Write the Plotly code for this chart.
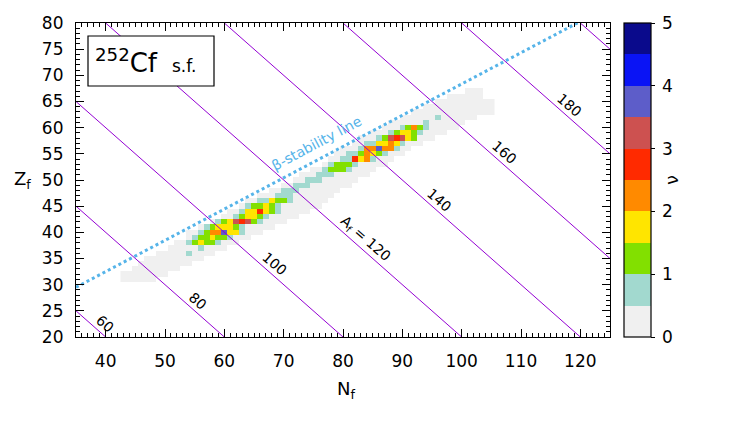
import plotly.graph_objects as go

# ------------------------------------------------------------------ data
# populated band of fragments (light-grey cells, nu < 0.5), per neutron number
band_N = list(range(43, 106))
band_Zmin = [31, 31, 31, 31, 31, 31, 32, 32, 33, 33, 34, 34, 35, 35, 36, 36, 37, 37, 38, 38,
             39, 39, 40, 40, 41, 41, 42, 42, 43, 43, 44, 44, 45, 45, 46, 47, 48, 49, 49, 50,
             51, 51, 52, 53, 53, 54, 55, 55, 56, 57, 57, 58, 58, 59, 59, 60, 60, 61, 62, 62,
             63, 63, 63]
band_Zmax = [32, 32, 33, 34, 35, 35, 36, 36, 37, 38, 38, 40, 40, 41, 41, 42, 42, 43, 44, 44,
             45, 46, 46, 47, 47, 48, 48, 49, 49, 50, 51, 51, 52, 52, 53, 54, 55, 56, 56, 57,
             58, 58, 59, 59, 60, 61, 61, 62, 62, 63, 63, 64, 64, 65, 65, 66, 66, 66, 67, 67,
             67, 65, 65]
band_nu = 0.25

# cells with nu >= 0.5
core_N = [54,
          56,
          54, 55, 56, 57, 58, 59,
          55, 56, 57, 58, 59, 60, 61,
          56, 57, 58, 59, 60, 61, 62, 63,
          57, 58, 59, 60, 61, 62, 63,
          59, 60, 61, 62, 63, 64, 65, 66,
          62, 63, 64, 65, 66, 67,
          63, 64, 65, 66, 67, 68, 69,
          64, 65, 66, 67, 68, 69,
          66, 67, 68, 69, 70, 71,
          69, 70, 71,
          70, 71, 72,
          72, 73, 74,
          74, 75, 76,
          76, 77, 78,
          77, 78, 79, 80, 81,
          78, 79, 80, 81, 82,
          80, 81, 82, 83, 84, 85,
          81, 82, 83, 84, 85, 86, 87,
          83, 84, 85, 86, 87, 88, 89,
          84, 85, 86, 87, 88, 89, 90,
          86, 87, 88, 89, 90, 91, 92,
          88, 89, 90, 91, 92, 93,
          90, 91, 92, 93, 94,
          94,
          96]
core_Z = [36,
          37,
          38, 38, 38, 38, 38, 38,
          39, 39, 39, 39, 39, 39, 39,
          40, 40, 40, 40, 40, 40, 40, 40,
          41, 41, 41, 41, 41, 41, 41,
          42, 42, 42, 42, 42, 42, 42, 42,
          43, 43, 43, 43, 43, 43,
          44, 44, 44, 44, 44, 44, 44,
          45, 45, 45, 45, 45, 45,
          46, 46, 46, 46, 46, 46,
          47, 47, 47,
          48, 48, 48,
          49, 49, 49,
          50, 50, 50,
          51, 51, 51,
          52, 52, 52, 52, 52,
          53, 53, 53, 53, 53,
          54, 54, 54, 54, 54, 54,
          55, 55, 55, 55, 55, 55, 55,
          56, 56, 56, 56, 56, 56, 56,
          57, 57, 57, 57, 57, 57, 57,
          58, 58, 58, 58, 58, 58, 58,
          59, 59, 59, 59, 59, 59,
          60, 60, 60, 60, 60,
          61,
          62]
core_nu = [0.8,
           0.8,
           0.8, 1.3, 1.8, 1.3, 1.3, 0.8,
           0.8, 1.3, 1.3, 1.8, 1.3, 1.3, 0.8,
           0.8, 1.3, 2.3, 2.3, 3.8, 1.8, 1.8, 0.8,
           0.8, 1.3, 1.8, 1.8, 1.8, 1.3, 0.8,
           0.8, 1.3, 1.8, 3.2, 2.8, 3.2, 1.3, 0.8,
           0.8, 1.3, 1.8, 1.8, 1.3, 0.8,
           0.8, 1.8, 1.8, 2.8, 1.8, 1.3, 0.8,
           0.8, 1.3, 1.3, 1.8, 1.3, 0.8,
           0.8, 0.8, 1.8, 1.3, 1.3, 0.8,
           0.8, 0.8, 0.8,
           0.8, 0.8, 0.8,
           0.8, 0.8, 0.8,
           0.8, 0.8, 0.8,
           0.8, 0.8, 0.8,
           0.8, 1.3, 1.3, 1.3, 0.8,
           0.8, 1.3, 1.3, 1.3, 0.8,
           0.8, 0.8, 2.8, 1.8, 2.3, 0.8,
           0.8, 0.8, 1.3, 2.3, 1.8, 1.3, 0.8,
           0.8, 2.3, 2.3, 3.8, 2.3, 2.3, 0.8,
           0.8, 0.8, 1.8, 1.8, 2.3, 1.8, 0.8,
           0.8, 1.3, 3.2, 2.8, 3.2, 1.8, 1.3,
           0.8, 1.3, 1.8, 1.8, 1.3, 0.8,
           0.8, 1.3, 2.3, 1.3, 0.8,
           0.8,
           0.8]

# isobars A_f = N_f + Z_f
A_values = [60, 80, 100, 120, 140, 160, 180, 200]
A_labels = ["60", "80", "100", "A<sub>f</sub> = 120", "140", "160", "180"]
A_label_N = [39.6, 55.2, 68.2, 83.4, 95.9, 106.8, 117.8]

# beta-stability line
beta_N = [35, 120]
beta_Z = [29.5, 80.3]

nu_ticks = [0, 1, 2, 3, 4, 5]
nu_colors = ["#f0f0f0", "#a2d9cf", "#82e000", "#ffe500", "#ff8a00",
             "#ff2a00", "#cd5150", "#5d5dc9", "#0a14f5", "#0a0a8c"]

# ------------------------------------------------------------------ grid
N_grid = list(range(43, 106))
Z_grid = list(range(30, 69))
zgrid = [[None] * len(N_grid) for _ in Z_grid]
for n, lo, hi in zip(band_N, band_Zmin, band_Zmax):
    for zz in range(lo, hi + 1):
        zgrid[zz - Z_grid[0]][n - N_grid[0]] = band_nu
for n, zz, v in zip(core_N, core_Z, core_nu):
    zgrid[zz - Z_grid[0]][n - N_grid[0]] = v

cs = []
nb = len(nu_colors)
for i, c in enumerate(nu_colors):
    cs += [[i / nb, c], [(i + 1) / nb, c]]

FONT = "DejaVu Sans"
OFF = 8                      # default page margin of the html body
PL, PB = 76, 337             # plot-area left / bottom on screen
pw, ph = 534, 314            # plot-area size
W, H = 747 - OFF, 427 - OFF
L, T = PL - OFF, 23 - OFF
R, B = W - L - pw, H - T - ph
cb_x = 1 + 14 / pw
cb_th = 27


def px(x):
    return (x - PL) / pw


def py(y):
    return (PB - y) / ph


fig = go.Figure()
fig.add_trace(go.Heatmap(
    x=N_grid, y=Z_grid, z=zgrid, colorscale=cs, zmin=0, zmax=5,
    hoverongaps=False,
    colorbar=dict(
        x=cb_x, xanchor="left", xref="paper", y=0.5, yanchor="middle",
        len=1, lenmode="fraction", thickness=cb_th, thicknessmode="pixels",
        xpad=0, ypad=0, outlinewidth=1.2, outlinecolor="black",
        tickvals=nu_ticks, ticktext=["\u2009" + str(t) for t in nu_ticks],
        ticks="outside", ticklen=4, tickwidth=1, tickcolor="black",
        tickfont=dict(family=FONT, size=17, color="black"),
        title=dict(text="ν", side="right", font=dict(family=FONT, size=17, color="black")),
    ),
))

for A in A_values:
    fig.add_trace(go.Scatter(
        x=[A - 80, A - 20], y=[80, 20], mode="lines",
        line=dict(color="#9400d3", width=1), showlegend=False, hoverinfo="skip"))

fig.add_trace(go.Scatter(
    x=beta_N, y=beta_Z, mode="lines",
    line=dict(color="#56b4e9", width=3, dash="dot"), showlegend=False, hoverinfo="skip"))

ann = []
for txt, nl, A in zip(A_labels, A_label_N, A_values):
    ann.append(dict(x=nl, y=A - nl, xref="x", yref="y", text=txt, showarrow=False,
                    textangle=41, yshift=11, xshift=2,
                    font=dict(family=FONT, size=14, color="black")))
ann.append(dict(x=75.6, y=57.0, xref="x", yref="y", text="β-stability line",
                showarrow=False, textangle=-28,
                font=dict(family=FONT, size=14, color="#56b4e9")))
# label box "252Cf s.f."
ann.append(dict(x=px(160), y=py(61), xref="paper", yref="paper",
                xanchor="right", yanchor="middle",
                text="<sup>252</sup>Cf", showarrow=False,
                font=dict(family=FONT, size=26, color="black")))
ann.append(dict(x=px(170), y=py(66), xref="paper", yref="paper",
                xanchor="left", yanchor="middle",
                text="s.f.", showarrow=False,
                font=dict(family=FONT, size=17, color="black")))
ann.append(dict(x=px(346), y=py(390), xref="paper", yref="paper",
                xanchor="center", yanchor="middle",
                text="N<sub>f</sub>", showarrow=False,
                font=dict(family=FONT, size=18, color="black")))
ann.append(dict(x=px(22), y=py(180), xref="paper", yref="paper",
                xanchor="center", yanchor="middle",
                text="Z<sub>f</sub>", showarrow=False,
                font=dict(family=FONT, size=18, color="black")))

shapes = [dict(type="rect", xref="paper", yref="paper",
               x0=px(88), x1=px(214), y0=py(86), y1=py(36),
               line=dict(color="black", width=1.2), fillcolor="white", layer="above")]
for k in range(1, nb):
    shapes.append(dict(type="line", xref="paper", yref="paper",
                       x0=cb_x, x1=cb_x + cb_th / pw, y0=k / nb, y1=k / nb,
                       line=dict(color="black", width=1.2)))

axis_common = dict(showline=True, linecolor="black", linewidth=1.2, mirror="allticks",
                   ticks="inside", ticklen=8, tickwidth=1, tickcolor="black",
                   showgrid=False, zeroline=False,
                   tickfont=dict(family=FONT, size=17, color="black"),
                   minor=dict(ticks="inside", ticklen=4, dtick=1, tickcolor="black", showgrid=False))

fig.update_layout(
    width=W, height=H, margin=dict(l=L, r=R, t=T, b=B, autoexpand=False),
    paper_bgcolor="white", plot_bgcolor="white",
    font=dict(family=FONT, color="black"),
    xaxis=dict(range=[35, 125], tickmode="linear", tick0=40, dtick=10,
               ticklabelstandoff=8, automargin=False, **axis_common),
    yaxis=dict(range=[20, 80], tickmode="linear", tick0=20, dtick=5,
               ticklabelstandoff=8, automargin=False, **axis_common),
    annotations=ann, shapes=shapes, showlegend=False,
)

fig.write_html("out.html")
